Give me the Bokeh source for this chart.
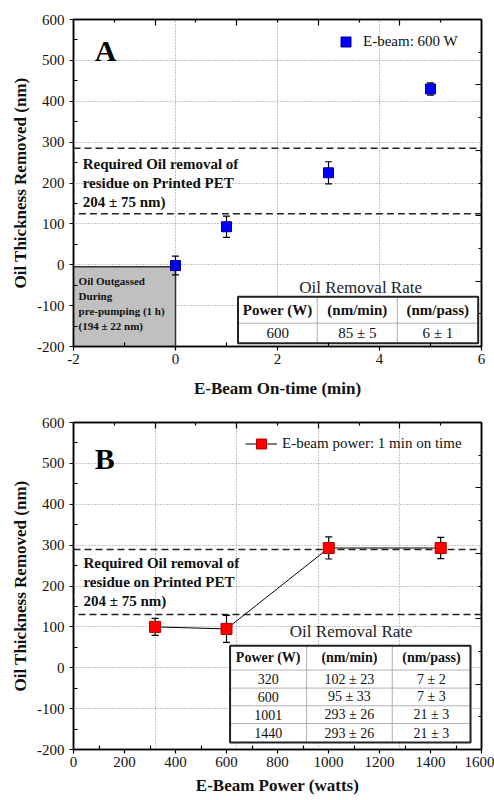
from bokeh.plotting import figure
from bokeh.models import (Range1d, FixedTicker, LinearAxis, Label, Legend, LegendItem,
                          ColumnDataSource)
from bokeh.layouts import column
from bokeh.embed import file_html
from bokeh.resources import INLINE
from bokeh.core.properties import value

# ---------------- data ----------------
# Panel A: oil removed vs e-beam on-time (600 W)
a_time = [0, 1, 3, 5]
a_removed = [-2, 93, 225, 430]
a_err = [23, 26, 27, 15]

# Panel B: oil removed vs e-beam power (1 min on time)
b_power = [320, 600, 1001, 1440]
b_removed = [100, 95, 293, 293]
b_err = [21, 33, 27, 26]

# required oil removal band (nm) as drawn
req_band_a = [125, 285]
req_band_b = [130, 289]
# oil outgassed during pre-pumping (grey box top, nm)
outgas_top = -5

table_header = ["Power (W)", "(nm/min)", "(nm/pass)"]
table_a_rows = [["600", "85 ± 5", "6 ± 1"]]
table_b_rows = [["320", "102 ± 23", "7 ± 2"],
                ["600", "95 ± 33", "7 ± 3"],
                ["1001", "293 ± 26", "21 ± 3"],
                ["1440", "293 ± 26", "21 ± 3"]]

y_ticks = list(range(-200, 601, 100))
y_minor = list(range(-150, 600, 100))
a_x_ticks = [-2, 0, 2, 4, 6]
a_x_minor = [-1, 1, 3, 5]
b_x_ticks = list(range(0, 1601, 200))
b_x_minor = list(range(100, 1600, 200))
right_ticks = [440, 280, 120, -40]
right_minor = [520, 360, 200, 40, -120]
a_top_ticks = [-0.4, 1.2, 2.8, 4.4]
a_top_minor = [-1.2, 0.4, 2.0, 3.6, 5.2]
b_top_ticks = [320, 640, 960, 1280]
b_top_minor = [160, 480, 800, 1120, 1440]
b_grid_x = [320, 640, 960, 1280]

SERIF = "'Liberation Serif', 'Times New Roman', serif"
Y_LABEL = "Oil Thickness Removed (nm)"


def fmt_overrides(ticks):
    return {t: (str(t) if t >= 0 else "-" + str(abs(t))) for t in ticks}


def make_fig(xr, x_ticks, x_minor, top_ticks, top_minor, xlabel, b_top, b_bottom, xl_standoff):
    p = figure(width=494, height=400, x_range=Range1d(*xr), y_range=Range1d(-200, 600),
               output_backend="svg", toolbar_location=None,
               min_border_left=73, min_border_right=13,
               min_border_top=b_top, min_border_bottom=b_bottom)
    p.outline_line_color = "black"
    p.outline_line_width = 1.5
    p.xaxis.ticker = FixedTicker(ticks=x_ticks, minor_ticks=x_minor)
    p.yaxis.ticker = FixedTicker(ticks=y_ticks, minor_ticks=y_minor)
    p.xaxis.major_label_overrides = fmt_overrides(x_ticks)
    p.yaxis.major_label_overrides = fmt_overrides(y_ticks)
    for ax in (p.xaxis, p.yaxis):
        ax.axis_line_color = "black"
        ax.axis_line_width = 1.5
        ax.major_tick_line_color = "black"
        ax.minor_tick_line_color = "black"
        ax.major_tick_line_width = 1.2
        ax.minor_tick_line_width = 1.2
        ax.major_tick_out = 4
        ax.major_tick_in = 0
        ax.minor_tick_in = 4
        ax.minor_tick_out = 0
        ax.major_label_text_font = SERIF
        ax.major_label_text_font_size = "15px"
        ax.major_label_text_color = "#111111"
        ax.axis_label_text_font = SERIF
        ax.axis_label_text_font_size = "17px"
        ax.axis_label_text_font_style = "bold"
        ax.axis_label_text_color = "#111111"
    p.xaxis.major_label_standoff = 3
    p.xaxis.axis_label_standoff = xl_standoff
    p.yaxis.major_label_standoff = 5
    p.yaxis.axis_label_standoff = 4
    p.xaxis.axis_label = xlabel
    p.yaxis.axis_label = Y_LABEL

    # mirror axes (ticks only)
    top = LinearAxis(ticker=FixedTicker(ticks=top_ticks, minor_ticks=top_minor))
    right = LinearAxis(ticker=FixedTicker(ticks=right_ticks, minor_ticks=right_minor))
    for ax in (top, right):
        ax.major_label_text_font_size = "0px"
        ax.major_label_text_alpha = 0
        ax.major_label_standoff = 0
        ax.axis_line_color = "black"
        ax.axis_line_width = 1.5
        ax.major_tick_in = 6
        ax.major_tick_out = 0
        ax.minor_tick_in = 3
        ax.minor_tick_out = 0
        ax.major_tick_line_width = 1.2
        ax.minor_tick_line_width = 1.2
    p.add_layout(top, "above")
    p.add_layout(right, "right")

    for g in (p.xgrid, p.ygrid):
        g.grid_line_color = "#8a8a8a"
        g.grid_line_dash = "1 2"
        g.grid_line_width = 1
    return p


def draw_errors(p, xs, ys, errs):
    lo = [y - e for y, e in zip(ys, errs)]
    hi = [y + e for y, e in zip(ys, errs)]
    p.segment(x0=xs, y0=lo, x1=xs, y1=hi, line_color="black", line_width=1.2)
    p.scatter(xs, lo, marker="dash", size=7, line_color="black", line_width=1.2)
    p.scatter(xs, hi, marker="dash", size=7, line_color="black", line_width=1.2)


def draw_table(p, col_edges, row_edges, header, rows, font_px, title, title_xy):
    left, right = col_edges[0], col_edges[-1]
    top, bottom = row_edges[0], row_edges[-1]
    p.quad(left=[left], right=[right], top=[top], bottom=[bottom],
           fill_color="white", line_color=None)
    vx = col_edges[1:-1]
    p.segment(x0=vx, y0=[top] * len(vx), x1=vx, y1=[bottom] * len(vx),
              line_color="#b0b0b0", line_width=1)
    hy = row_edges[1:-1]
    p.segment(x0=[left] * len(hy), y0=hy, x1=[right] * len(hy), y1=hy,
              line_color="#b0b0b0", line_width=1)
    p.quad(left=[left], right=[right], top=[top], bottom=[bottom],
           fill_color=None, line_color="#222222", line_width=2)
    cx = [(col_edges[i] + col_edges[i + 1]) / 2 for i in range(len(col_edges) - 1)]
    cy = [(row_edges[i] + row_edges[i + 1]) / 2 for i in range(len(row_edges) - 1)]
    hsrc = ColumnDataSource(dict(x=cx, y=[cy[0]] * len(cx), t=header))
    p.text(x="x", y="y", text="t", source=hsrc, text_font=value(SERIF),
           text_font_size=value(font_px), text_font_style="bold",
           text_align="center", text_baseline="middle", text_color="#111111")
    bx, by, bt = [], [], []
    for r, row in enumerate(rows):
        for c, cell in enumerate(row):
            bx.append(cx[c]); by.append(cy[r + 1]); bt.append(cell)
    bsrc = ColumnDataSource(dict(x=bx, y=by, t=bt))
    p.text(x="x", y="y", text="t", source=bsrc, text_font=value(SERIF),
           text_font_size=value(font_px), text_align="center",
           text_baseline="middle", text_color="#111111")
    p.add_layout(Label(x=title_xy[0], y=title_xy[1], text=title, text_font=SERIF,
                       text_font_size="17px", text_align="center",
                       text_baseline="middle", text_color="#222222"))


REQ_TEXT = "Required Oil removal of\nresidue on Printed PET\n204 ± 75 nm)"

# ---------------- Panel A ----------------
pA = make_fig((-2, 6), a_x_ticks, a_x_minor, a_top_ticks, a_top_minor,
              "E-Beam On-time (min)", 19, 54, 12)
pA.quad(left=[-2], right=[0], bottom=[-200], top=[outgas_top],
        fill_color="#c0c0c0", line_color="#333333", line_width=1.5)
pA.quad(left=[-2], right=[6], bottom=[req_band_a[0]], top=[req_band_a[1]],
        fill_color=None, line_color="#222222", line_width=1.5, line_dash="7 4")
draw_errors(pA, a_time, a_removed, a_err)
rA = pA.scatter(a_time, a_removed, marker="square", size=10,
                fill_color="#0000ff", line_color="#00008b", line_width=1)
draw_table(pA, [1.225, 2.78, 4.35, 5.935], [-78, -143, -192],
           table_header, table_a_rows, "15px", "Oil Removal Rate", (3.63, -55))
pA.add_layout(Label(x=-1.82, y=267, text=REQ_TEXT, text_font=SERIF,
                    text_font_size="15px", text_font_style="bold",
                    text_baseline="top", text_line_height=1.2, text_color="#111111"))
pA.add_layout(Label(x=-1.9, y=-24, text="Oil Outgassed\nDuring\npre-pumping (1 h)\n(194 ± 22 nm)",
                    text_font=SERIF, text_font_size="11px", text_font_style="bold",
                    text_baseline="top", text_line_height=1.25, text_color="#111111"))
pA.add_layout(Label(x=-1.37, y=524, text="A", text_font=SERIF, text_font_size="30px",
                    text_font_style="bold", text_align="center", text_baseline="middle",
                    text_color="black"))
legA = Legend(items=[LegendItem(label="E-beam: 600 W", renderers=[rA])],
              location=(260, 292), padding=0, margin=0, border_line_alpha=0,
              background_fill_alpha=0, glyph_width=25, glyph_height=25,
              label_standoff=5, label_text_font=SERIF, label_text_font_size="15px",
              label_text_color="#111111")
pA.add_layout(legA)

# ---------------- Panel B ----------------
pB = make_fig((0, 1600), b_x_ticks, b_x_minor, b_top_ticks, b_top_minor,
              "E-Beam Power (watts)", 22, 51, 6)
pB.xgrid.ticker = FixedTicker(ticks=b_grid_x)
pB.quad(left=[0], right=[1600], bottom=[req_band_b[0]], top=[req_band_b[1]],
        fill_color=None, line_color="#222222", line_width=1.5, line_dash="7 4")
lB = pB.line(b_power, b_removed, line_color="black", line_width=1)
draw_errors(pB, b_power, b_removed, b_err)
rB = pB.scatter(b_power, b_removed, marker="square", size=11,
                fill_color="#ff0000", line_color="#b00000", line_width=1)
draw_table(pB, [614, 914, 1250, 1557], [53.6, -5.7, -49.8, -93.1, -136.4, -182.9],
           table_header, table_b_rows, "14px", "Oil Removal Rate", (1089, 89))
pB.add_layout(Label(x=39, y=276, text=REQ_TEXT, text_font=SERIF,
                    text_font_size="15px", text_font_style="bold",
                    text_baseline="top", text_line_height=1.2, text_color="#111111"))
pB.add_layout(Label(x=123, y=511, text="B", text_font=SERIF, text_font_size="30px",
                    text_font_style="bold", text_align="center", text_baseline="middle",
                    text_color="black"))
legB = Legend(items=[LegendItem(label="E-beam power: 1 min on time", renderers=[lB, rB])],
              location=(172, 293), padding=0, margin=0, border_line_alpha=0,
              background_fill_alpha=0, glyph_width=32, glyph_height=25,
              label_standoff=5, label_text_font=SERIF, label_text_font_size="15px",
              label_text_color="#111111")
pB.add_layout(legB)

layout = column(pA, pB)
open("out.html", "w").write(file_html(layout, INLINE))
